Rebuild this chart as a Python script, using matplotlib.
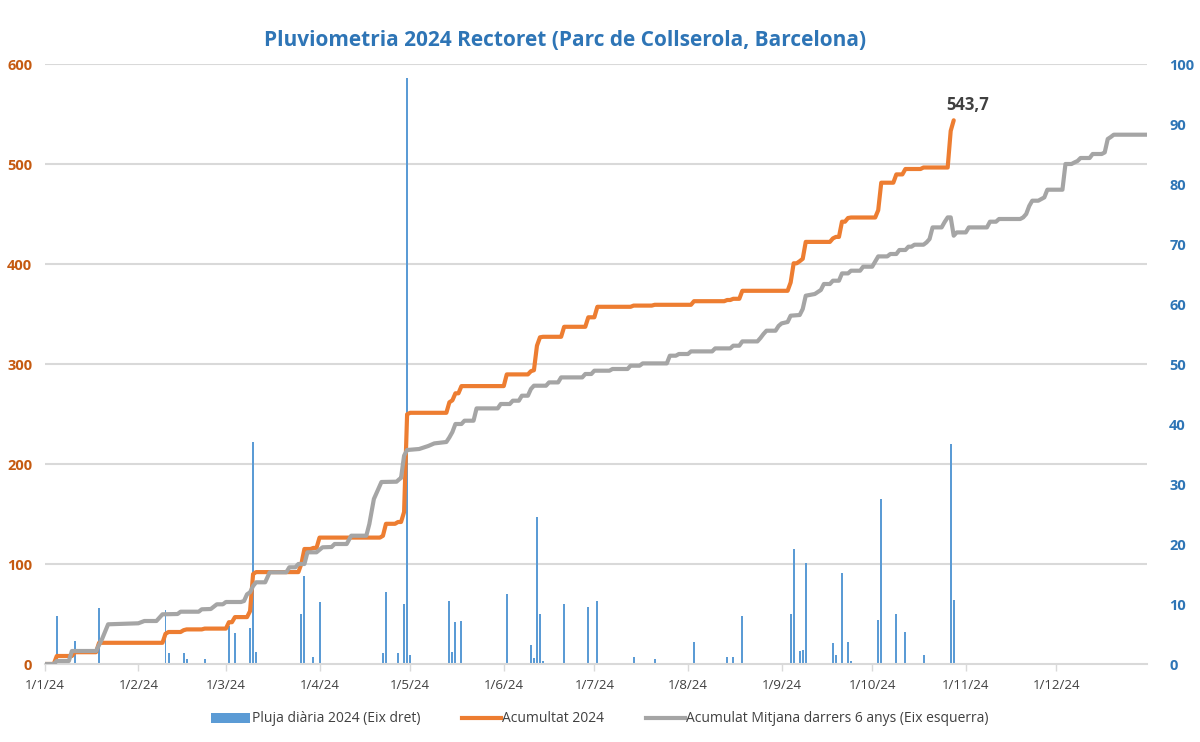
import numpy as np
import matplotlib
matplotlib.use("Agg")
import matplotlib.pyplot as plt
from matplotlib import font_manager
from matplotlib.patches import Patch
from matplotlib.lines import Line2D

# ---------------- data ----------------
title = "Pluviometria 2024 Rectoret (Parc de Collserola, Barcelona)"
month_ticks = [0, 31, 60, 91, 121, 152, 182, 213, 244, 274, 305, 335]
month_labels = ["1/1/24", "1/2/24", "1/3/24", "1/4/24", "1/5/24", "1/6/24",
                "1/7/24", "1/8/24", "1/9/24", "1/10/24", "1/11/24", "1/12/24"]

# daily rain 2024 (day of year, 0 = 1 Jan) and mm  (right axis)
rain_days = [4, 10, 18,
             40, 41, 46, 47, 53,
             61, 63, 68, 69, 70, 85, 86, 89, 91,
             112, 113, 117, 119, 120, 121,
             134, 135, 136, 138,
             153, 161, 162, 163, 164, 165, 172, 180, 183,
             195, 202,
             215, 226, 228, 231,
             247, 248, 250, 251, 252, 261, 262, 264, 266, 267,
             276, 277, 282, 285, 291, 300, 301]
rain_mm = [8.0, 3.8, 9.4,
           9.0, 1.8, 1.8, 0.8, 0.8,
           6.4, 5.1, 6.0, 37.0, 2.0, 8.4, 14.7, 1.1, 10.3,
           1.8, 12.0, 1.8, 10.0, 97.7, 1.5,
           10.5, 2.0, 7.0, 7.2,
           11.7, 3.2, 1.0, 24.5, 8.4, 0.5, 10.0, 9.5, 10.5,
           1.2, 0.8,
           3.6, 1.2, 1.2, 8.0,
           8.3, 19.2, 2.1, 2.4, 16.9, 3.5, 1.5, 15.2, 3.7, 0.5,
           7.3, 27.5, 8.3, 5.4, 1.5, 36.6, 10.6]
last_day_2024 = 301
total_label = "543,7"

# 6-year average cumulative (left axis)
avg_days = [0, 3, 4, 8, 9, 17, 19, 21, 31, 33, 37, 39, 44, 45, 51, 52, 55, 57, 59, 60,
            65, 66, 67, 68, 69, 70, 73, 74.5, 80, 81, 83, 84, 86, 87, 90, 92, 95, 96, 100,
            101.5, 106.5, 107.5, 109, 110, 111.5, 116.5, 117.5, 118, 119, 120, 124, 127,
            129, 133, 134, 135, 136, 138, 139, 142, 143, 150, 151, 154, 155, 157, 158, 160,
            161, 162, 166, 167, 170, 171, 178, 179, 181, 182, 187, 188, 193, 194, 197, 198,
            206, 207, 209, 210, 213, 214, 221, 222, 227, 228, 230, 231, 236, 237, 238, 239,
            242, 243, 244, 246, 247, 250, 251, 252, 255, 257, 258, 260, 261, 263, 264, 266,
            267, 270, 271, 274, 276, 279, 280, 282, 283, 285, 286, 287, 288, 291, 292, 293,
            294, 297, 298, 299, 300, 301, 302, 305, 306, 312, 313, 315, 316, 323, 324, 325,
            326, 327, 329, 331, 332, 337, 338, 340, 341, 342, 343, 346, 347, 350, 351, 352,
            353, 354, 365]
avg_vals = [0, 0, 3, 3, 13, 13, 25, 39.7, 40.7, 43, 43, 49.7, 50, 52.3, 52.3, 54.7, 55, 59.7, 59.7, 62,
            62, 63, 69.7, 71.7, 78, 81.7, 81.7, 91.7, 91.7, 96.7, 96.7, 100, 100, 111.7, 111.7, 116.7, 117, 120, 120,
            128.3, 128.3, 140, 165, 171.7, 182, 182.3, 185, 186, 208.3, 214, 215, 218,
            220.6, 222, 226.6, 232, 240, 240, 243.3, 243.3, 255.6, 255.6, 260, 260, 263.3, 263.3, 268.3, 268.3,
            275, 278.3, 278.3, 281.6, 281.6, 286.6, 286.6, 290, 290, 293.3, 293.3, 295, 295, 298.3, 298.3, 300.6,
            300.6, 308.3, 308.3, 310, 310, 312.6, 312.6, 315.6, 315.6, 318.3, 318.3, 322.6, 322.6, 326, 330, 333.3,
            333.3, 338, 340.6, 342, 348.3, 349, 355, 368.3, 370, 374, 380, 380, 383.3, 383.3, 390.6, 390.6,
            393.3, 393.3, 397.3, 397.3, 407.6, 407.6, 410, 410, 414, 414, 417.3, 417.3, 419.3, 419.3, 421.6, 425,
            436.6, 436.6, 442, 446.6, 446.6, 428.3, 431.6, 431.6, 436.6, 436.6, 442.3, 442.3, 445, 445, 446.6, 450,
            458, 463.3, 463.3, 466.6, 474.3, 474.3, 500, 500, 501.6, 503, 506, 506, 510, 510, 511.6, 525,
            527, 529.3, 529.3]

# ---------------- fonts / colours ----------------
avail = {f.name for f in font_manager.fontManager.ttflist}
base_font = "Liberation Sans Narrow" if "Liberation Sans Narrow" in avail else "Open Sans"
plt.rcParams["font.family"] = [base_font, "DejaVu Sans"]

C_BLUE = "#5B9BD5"
C_ORANGE = "#ED7D31"
C_GRAY = "#A5A5A5"
C_TITLE = "#2E75B6"
C_LEFT = "#C55A11"
C_TEXT = "#404040"
C_GRID = "#D9D9D9"

# ---------------- figure ----------------
W, H = 1200, 742
fig = plt.figure(figsize=(W / 100, H / 100), dpi=100)
left, right, top, bottom = 44.7, 1147, 64, 664
rect = [left / W, 1 - bottom / H, (right - left) / W, (bottom - top) / H]

ax2 = fig.add_axes(rect)             # bars, right axis
ax = fig.add_axes(rect, sharex=ax2)  # lines, left axis
ax.set_zorder(ax2.get_zorder() + 1)
ax.patch.set_visible(False)

# daily series and running total
daily = np.zeros(last_day_2024 + 1)
for d, v in zip(rain_days, rain_mm):
    daily[d] += v
cum = np.cumsum(daily)

# bars
ax2.bar(rain_days, rain_mm, width=0.65, color=C_BLUE, zorder=2)
ax2.set_ylim(0, 100)
ax2.set_yticks(np.arange(0, 101, 10))
ax2.yaxis.tick_right()
ax2.tick_params(axis="y", length=0, pad=16, labelsize=10.5, labelcolor=C_TITLE)
for lab in ax2.get_yticklabels():
    lab.set_fontweight("bold")
for g in range(100, 601, 100):
    ax2.axhline(g / 6.0, color=C_GRID, lw=1.5, zorder=0)

# lines
ax.plot(np.arange(last_day_2024 + 1), cum, color=C_ORANGE, lw=3.0,
        solid_joinstyle="round", solid_capstyle="round", zorder=3)
ax.plot(avg_days, avg_vals, color=C_GRAY, lw=3.0,
        solid_joinstyle="round", solid_capstyle="round", zorder=4)
ax.set_ylim(0, 600)
ax.set_yticks(np.arange(0, 601, 100))
ax.tick_params(axis="y", length=0, pad=9, labelsize=10.5, labelcolor=C_LEFT)
for lab in ax.get_yticklabels():
    lab.set_fontweight("bold")

ax.text(305.7, 559, total_label, ha="center", va="center", fontsize=12,
        fontweight="bold", color=C_TEXT, zorder=5)

# x axis
ax.set_xlim(0, 365)
ax.set_xticks(month_ticks)
ax.set_xticklabels(month_labels)
ax.tick_params(axis="x", length=5, width=1, color=C_GRID, pad=6,
               labelsize=9.5, labelcolor=C_TEXT)
ax2.tick_params(axis="x", length=0, labelbottom=False)

for a in (ax, ax2):
    for s in ("top", "left", "right", "bottom"):
        a.spines[s].set_visible(False)
ax.spines["bottom"].set_visible(True)
ax.spines["bottom"].set_color(C_GRID)
ax.spines["bottom"].set_linewidth(1.5)

fig.text(565 / W, 1 - 40 / H, title, ha="center", va="center",
         fontsize=15, fontweight="bold", color=C_TITLE)

handles = [Patch(facecolor=C_BLUE, edgecolor="none"),
           Line2D([0], [0], color=C_ORANGE, lw=3),
           Line2D([0], [0], color=C_GRAY, lw=3)]
labels = ["Pluja diària 2024 (Eix dret)", "Acumultat 2024",
          "Acumulat Mitjana darrers 6 anys (Eix esquerra)"]
fig.legend(handles, labels, loc="center", bbox_to_anchor=(600 / W, 1 - 719 / H),
           ncol=3, frameon=False, fontsize=10, labelcolor=C_TEXT,
           handlelength=2.8, handleheight=0.7, handletextpad=0.1, columnspacing=3.0)

fig.savefig("out.png", dpi=100)
